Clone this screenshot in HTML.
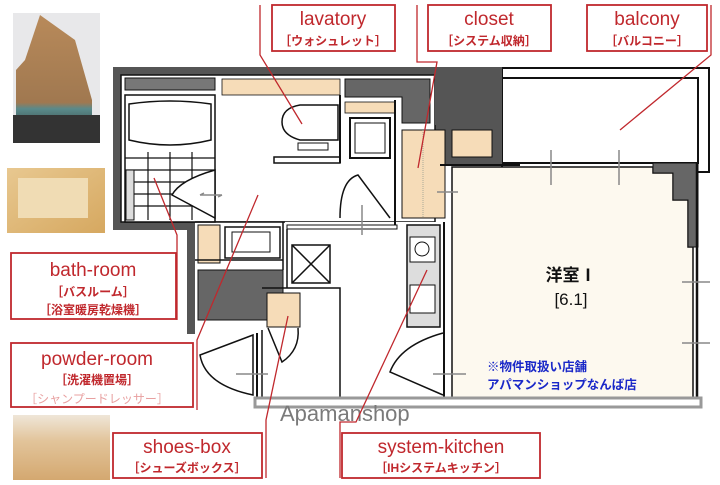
<!DOCTYPE html>
<html><head><meta charset="utf-8"><style>
html,body{margin:0;padding:0;background:#fff;}
body{width:720px;height:485px;overflow:hidden;position:relative;font-family:"Liberation Sans","Noto Sans CJK JP",sans-serif;}
svg{position:absolute;left:0;top:0;}
</style></head><body>
<svg width="720" height="485" viewBox="0 0 720 485" xmlns="http://www.w3.org/2000/svg">
<defs>
<linearGradient id="bld" x1="0" y1="0" x2="0" y2="1"><stop offset="0" stop-color="#b88a5a"/><stop offset="0.7" stop-color="#a07850"/><stop offset="0.75" stop-color="#5a8a8a"/><stop offset="1" stop-color="#2a2a2a"/></linearGradient>
<linearGradient id="bth" x1="0" y1="0" x2="1" y2="1"><stop offset="0" stop-color="#e8c890"/><stop offset="1" stop-color="#d6a860"/></linearGradient>
<linearGradient id="shb" x1="0" y1="0" x2="0" y2="1"><stop offset="0" stop-color="#efe6d8"/><stop offset="0.4" stop-color="#e2c49a"/><stop offset="1" stop-color="#d4a870"/></linearGradient>
</defs>
<rect x="13" y="13" width="87" height="130" fill="#e8e8ea"/>
<polygon points="25,60 40,15 75,40 92,100 92,140 16,140 16,70" fill="url(#bld)"/>
<rect x="13" y="115" width="87" height="28" fill="#333"/>
<rect x="7" y="168" width="98" height="65" fill="url(#bth)"/>
<rect x="18" y="178" width="70" height="40" fill="#f0dcb4"/>
<rect x="13" y="415" width="97" height="65" fill="url(#shb)"/>

<rect x="502" y="68" width="207" height="104" fill="#fff" stroke="#111" stroke-width="2"/>
<rect x="502" y="78" width="196" height="85" fill="#fff" stroke="#111" stroke-width="2"/>
<rect x="113" y="67" width="389" height="98" fill="#555"/>
<rect x="113" y="67" width="8" height="163" fill="#555"/>
<rect x="113" y="222" width="80" height="8" fill="#555"/>
<rect x="187" y="222" width="8" height="112" fill="#555"/>
<rect x="187" y="326" width="80" height="8" fill="#555"/>
<rect x="121" y="75" width="314" height="147" fill="#fff" stroke="#111" stroke-width="1.5"/>
<rect x="195" y="222" width="258" height="176" fill="#fff"/>
<rect x="125" y="78" width="90" height="12" fill="#777" stroke="#111"/>
<path d="M345,79 H430 V123 H402 V97 H345 Z" fill="#666" stroke="#111"/>
<rect x="435" y="67" width="67" height="58" fill="#555"/>
<rect x="198" y="270" width="85" height="50" fill="#666" stroke="#111"/>
<rect x="222" y="79" width="118" height="16" fill="#f6dcb8" stroke="#111" stroke-width="0.8"/>
<rect x="345" y="102" width="50" height="11" fill="#f6dcb8" stroke="#111" stroke-width="0.8"/>
<rect x="402" y="130" width="43" height="88" fill="#f6dcb8" stroke="#111"/>
<line x1="423" y1="130" x2="423" y2="218" stroke="#aa9" stroke-dasharray="1,1"/>
<rect x="452" y="130" width="40" height="27" fill="#f6dcb8" stroke="#111"/>
<rect x="198" y="225" width="22" height="38" fill="#f6dcb8" stroke="#111"/>
<rect x="267" y="293" width="33" height="34" fill="#f6dcb8" stroke="#111"/>
<rect x="125" y="95" width="90" height="127" fill="#fff" stroke="#111" stroke-width="1.5"/>
<path d="M129,104 Q170,98 211,104 V140 Q170,150 129,140 Z" fill="#fff" stroke="#111" stroke-width="1.5"/>
<g stroke="#111" stroke-width="1.2">
<line x1="125" y1="158" x2="215" y2="158"/><line x1="125" y1="170" x2="215" y2="170"/><line x1="125" y1="182" x2="215" y2="182"/><line x1="125" y1="194" x2="215" y2="194"/><line x1="125" y1="206" x2="215" y2="206"/>
<line x1="148" y1="152" x2="148" y2="220"/><line x1="170" y1="152" x2="170" y2="220"/><line x1="192" y1="152" x2="192" y2="220"/>
</g>
<rect x="126" y="170" width="8" height="50" fill="#ddd" stroke="#111"/>
<path d="M215,170 Q180,180 172,195 L215,218 Z" fill="#fff" stroke="#111" stroke-width="1.5"/>
<path d="M300,105 H338 V140 H300 Q282,135 282,122 Q282,108 300,105 Z" fill="#fff" stroke="#111" stroke-width="1.5"/>
<rect x="298" y="143" width="30" height="7" fill="#fff" stroke="#111"/>
<rect x="274" y="157" width="66" height="6" fill="#fff" stroke="#111" stroke-width="1.5"/>
<line x1="340" y1="95" x2="340" y2="163" stroke="#111" stroke-width="2"/>
<rect x="350" y="118" width="40" height="40" fill="#fff" stroke="#111" stroke-width="2"/>
<rect x="355" y="123" width="30" height="30" fill="#fff" stroke="#111"/>
<line x1="395" y1="100" x2="395" y2="225" stroke="#111" stroke-width="2"/>
<path d="M340,218 Q340,180 358,175 L390,218" fill="#fff" stroke="#111" stroke-width="1.5"/>
<rect x="225" y="227" width="55" height="31" fill="#fff" stroke="#111" stroke-width="1.5"/>
<rect x="232" y="232" width="38" height="20" fill="#fff" stroke="#111"/>
<line x1="195" y1="222" x2="285" y2="222" stroke="#111" stroke-width="1.5"/>
<path d="M283,222 V270 M283,260 H195" stroke="#111" stroke-width="1.5" fill="none"/>
<rect x="287" y="225" width="110" height="4" fill="#fff" stroke="#111"/>
<rect x="292" y="245" width="38" height="38" fill="#fff" stroke="#111" stroke-width="1.5"/>
<path d="M292,245 L330,283 M330,245 L292,283" stroke="#111" stroke-width="1.5"/>
<path d="M287,229 V288 H340 V398 M262,288 H340" stroke="#111" stroke-width="1.5" fill="none"/>
<rect x="407" y="225" width="33" height="102" fill="#ddd" stroke="#111" stroke-width="1.5"/>
<rect x="410" y="237" width="25" height="25" fill="#fff" stroke="#111"/>
<circle cx="422" cy="249" r="7" fill="#fff" stroke="#111"/>
<rect x="410" y="285" width="25" height="28" fill="#fff" stroke="#111"/>
<line x1="444" y1="222" x2="444" y2="398" stroke="#111" stroke-width="2"/>
<path d="M253,335 L200,355 Q205,385 253,395 Z" fill="#fff" stroke="#111" stroke-width="1.5"/>
<line x1="257" y1="333" x2="257" y2="398" stroke="#111" stroke-width="2"/>
<line x1="262" y1="330" x2="262" y2="398" stroke="#111" stroke-width="1.5"/>
<path d="M268,328 L282,362 Q300,350 298,328" fill="#fff" stroke="#111" stroke-width="1.5"/>
<path d="M443,333 Q400,345 390,372 L443,395" fill="#fff" stroke="#111" stroke-width="1.5"/>
<!-- room -->
<path d="M452,167 H653 V173 H673 V200 H688 V247 H693 V398 H452 Z" fill="#fdf9ef" stroke="#111" stroke-width="1.5"/>
<path d="M653,163 H698 V247 H688 V200 H673 V173 H653 Z" fill="#666" stroke="#111" stroke-width="1"/>
<line x1="697" y1="163" x2="697" y2="398" stroke="#111" stroke-width="2.5"/>
<line x1="440" y1="165" x2="520" y2="165" stroke="#111" stroke-width="2"/>
<rect x="255" y="398" width="446" height="9" fill="none" stroke="#999" stroke-width="3"/>
<g stroke="#888" stroke-width="1.5" fill="none">
<path d="M200,195 H222 M200,195 l4,-2 M222,195 l-4,2"/>
<path d="M362,205 V235"/><path d="M437,192 H458"/>
<path d="M551,150 V185"/><path d="M619,150 V185"/>
<path d="M682,282 H710"/><path d="M682,343 H710"/>
<path d="M236,374 H268"/><path d="M433,374 H466"/>
</g>
<text x="571" y="281" text-anchor="middle" font-size="17" font-weight="bold" fill="#111">洋室Ⅰ</text>
<text x="571" y="305" text-anchor="middle" font-size="17" fill="#111">[6.1]</text>
<text x="487" y="371" font-size="12.5" font-weight="bold" fill="#1a28c8">※物件取扱い店舗</text>
<text x="487" y="389" font-size="12.5" font-weight="bold" fill="#1a28c8">アパマンショップなんば店</text>
<text x="280" y="421" font-size="22" fill="#7a7a7a">Apamanshop</text>

<g stroke="#c0282d" stroke-width="1.3" fill="none">
<path d="M260,5 V55 L302,124"/>
<path d="M417,5 V62 H437 L418,168"/>
<path d="M711,5 V55 L620,130"/>
<path d="M154,178 L177,235 V320"/>
<path d="M258,195 L197,340 V410"/>
<path d="M288,316 L266,420 V478"/>
<path d="M427,270 L356,422 H340 V478"/>
</g>
<g fill="#fff" stroke="#c0282d" stroke-width="1.8">
<rect x="272" y="5" width="123" height="46"/>
<rect x="428" y="5" width="123" height="46"/>
<rect x="587" y="5" width="120" height="46"/>
<rect x="11" y="253" width="165" height="66"/>
<rect x="11" y="343" width="182" height="64"/>
<rect x="113" y="433" width="149" height="45"/>
<rect x="342" y="433" width="198" height="45"/>
</g>
<g fill="#c0282d" text-anchor="middle" font-weight="bold">
<text x="333" y="25" font-size="19" font-weight="normal">lavatory</text>
<text x="333" y="45" font-size="12">［ウォシュレット］</text>
<text x="489" y="25" font-size="19" font-weight="normal">closet</text>
<text x="489" y="45" font-size="12">［システム収納］</text>
<text x="647" y="25" font-size="19" font-weight="normal">balcony</text>
<text x="647" y="45" font-size="12">［バルコニー］</text>
<text x="93" y="276" font-size="19" font-weight="normal">bath-room</text>
<text x="93" y="296" font-size="12">［バスルーム］</text>
<text x="93" y="314" font-size="12">［浴室暖房乾燥機］</text>
<text x="97" y="365" font-size="19" font-weight="normal">powder-room</text>
<text x="97" y="384" font-size="12">［洗濯機置場］</text>
<text x="97" y="403" font-size="12" fill="#e8a0a0" font-weight="normal">［シャンプードレッサー］</text>
<text x="187" y="453" font-size="19" font-weight="normal">shoes-box</text>
<text x="187" y="472" font-size="12">［シューズボックス］</text>
<text x="441" y="453" font-size="19" font-weight="normal">system-kitchen</text>
<text x="441" y="472" font-size="12">［IHシステムキッチン］</text>
</g>
</svg>
</body></html>
